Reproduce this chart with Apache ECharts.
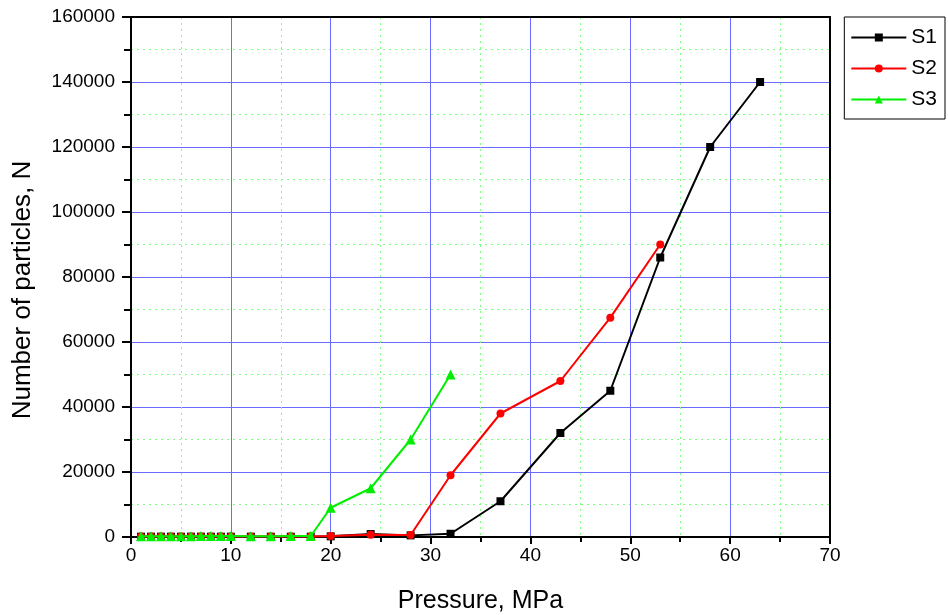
<!DOCTYPE html>
<html>
<head>
<meta charset="utf-8">
<script src="https://cdn.jsdelivr.net/npm/echarts@6/dist/echarts.min.js"></script>
<style>
  html, body { margin: 0; padding: 0; background: #fff; }
  #chart { width: 948px; height: 615px; }
</style>
</head>
<body>
<div id="chart"></div>
<script>
// 压力 - 颗粒数 曲线
var lowX = [1, 2, 3, 4, 5, 6, 7, 8, 9, 10, 12, 14, 16, 18];

var s1X = lowX.concat([20, 24, 28, 32, 37, 43, 48, 53, 58, 63]);
var s1Y = [100, 100, 100, 100, 100, 100, 100, 100, 100, 100, 100, 100, 100, 100,
  200, 900, 500, 1000, 11000, 32000, 45000, 86000, 120000, 140000];

var s2X = lowX.concat([20, 24, 28, 32, 37, 43, 48, 53]);
var s2Y = [150, 150, 150, 150, 150, 150, 150, 150, 150, 150, 150, 150, 150, 150,
  300, 700, 600, 19000, 38000, 48000, 67500, 90000];

var s3X = lowX.concat([20, 24, 28, 32]);
var s3Y = [200, 200, 200, 200, 200, 250, 300, 300, 300, 300, 250, 250, 300, 300,
  9000, 15000, 30000, 50000];

var seriesNames = ['S1', 'S2', 'S3'];
var seriesColors = ['#000000', '#ff0000', '#00ee00'];
var seriesSymbols = ['rect', 'circle', 'triangle'];

function pairs(xs, ys) {
  return xs.map(function (x, i) { return [x, ys[i]]; });
}

(function () {
  var myChart = echarts.init(document.getElementById('chart'));
  var font = "'Liberation Sans', Arial, sans-serif";
  var allData = [pairs(s1X, s1Y), pairs(s2X, s2Y), pairs(s3X, s3Y)];

  // 上、右边框（只画轴线）
  var frameAxis = {
    axisLine: { show: true, onZero: false, lineStyle: { color: '#000', width: 2 } },
    axisTick: { show: false },
    axisLabel: { show: false },
    splitLine: { show: false }
  };

  var option = {
    animation: false,
    backgroundColor: '#fff',
    textStyle: { fontFamily: font },
    grid: {
      left: 131,
      top: 17,
      right: 118,
      bottom: 78,
      outerBoundsMode: 'none'
    },
    legend: {
      orient: 'vertical',
      right: 3,
      top: 17,
      width: 98,
      data: seriesNames,
      borderColor: '#000',
      borderWidth: 1,
      padding: [10, 8, 9, 6],
      itemWidth: 55,
      itemHeight: 10,
      itemGap: 10,
      textStyle: { fontSize: 21, color: '#000', fontFamily: font }
    },
    xAxis: [{
      type: 'value',
      min: 0,
      max: 70,
      interval: 10,
      name: 'Pressure, MPa',
      nameLocation: 'middle',
      nameGap: 52,
      nameTextStyle: { fontSize: 25, color: '#000', fontFamily: font },
      axisLine: { lineStyle: { color: '#000', width: 2 } },
      axisTick: { length: 7, lineStyle: { color: '#000', width: 2 } },
      minorTick: { show: true, splitNumber: 2, length: 5, lineStyle: { color: '#000', width: 2 } },
      axisLabel: { fontSize: 19, color: '#000', margin: 9, fontFamily: font },
      splitLine: { lineStyle: { color: '#6b6bff', width: 1 } },
      minorSplitLine: { show: true, lineStyle: { color: '#7fff7f', type: [2, 4], width: 1 } }
    }, Object.assign({ type: 'value', position: 'top', min: 0, max: 70 }, frameAxis)],
    yAxis: [{
      type: 'value',
      min: 0,
      max: 160000,
      interval: 20000,
      name: 'Number of particles, N',
      nameLocation: 'middle',
      nameGap: 95,
      nameRotate: 90,
      nameTextStyle: { fontSize: 26, color: '#000', fontFamily: font, padding: [0, 26, 0, 0] },
      axisLine: { show: true, lineStyle: { color: '#000', width: 2 } },
      axisTick: { show: true, length: 9, lineStyle: { color: '#000', width: 2 } },
      minorTick: { show: true, splitNumber: 2, length: 7, lineStyle: { color: '#000', width: 2 } },
      axisLabel: {
        fontSize: 19, color: '#000', margin: 16, fontFamily: font,
        formatter: function (v) { return String(v); }
      },
      splitLine: { lineStyle: { color: '#6b6bff', width: 1 } },
      minorSplitLine: { show: true, lineStyle: { color: '#7fff7f', type: [2, 4], width: 1 } }
    }, Object.assign({ type: 'value', position: 'right', min: 0, max: 160000 }, frameAxis)],
    series: seriesNames.map(function (name, i) {
      return {
        name: name,
        type: 'line',
        data: allData[i],
        symbol: seriesSymbols[i],
        symbolSize: i === 2 ? 10 : 8,
        showAllSymbol: true,
        z: 2 + i,
        lineStyle: { color: seriesColors[i], width: 2 },
        itemStyle: { color: seriesColors[i] }
      };
    })
  };

  myChart.setOption(option);
  window.addEventListener('resize', function () {
    myChart.resize();
  });
})();
</script>
</body>
</html>
